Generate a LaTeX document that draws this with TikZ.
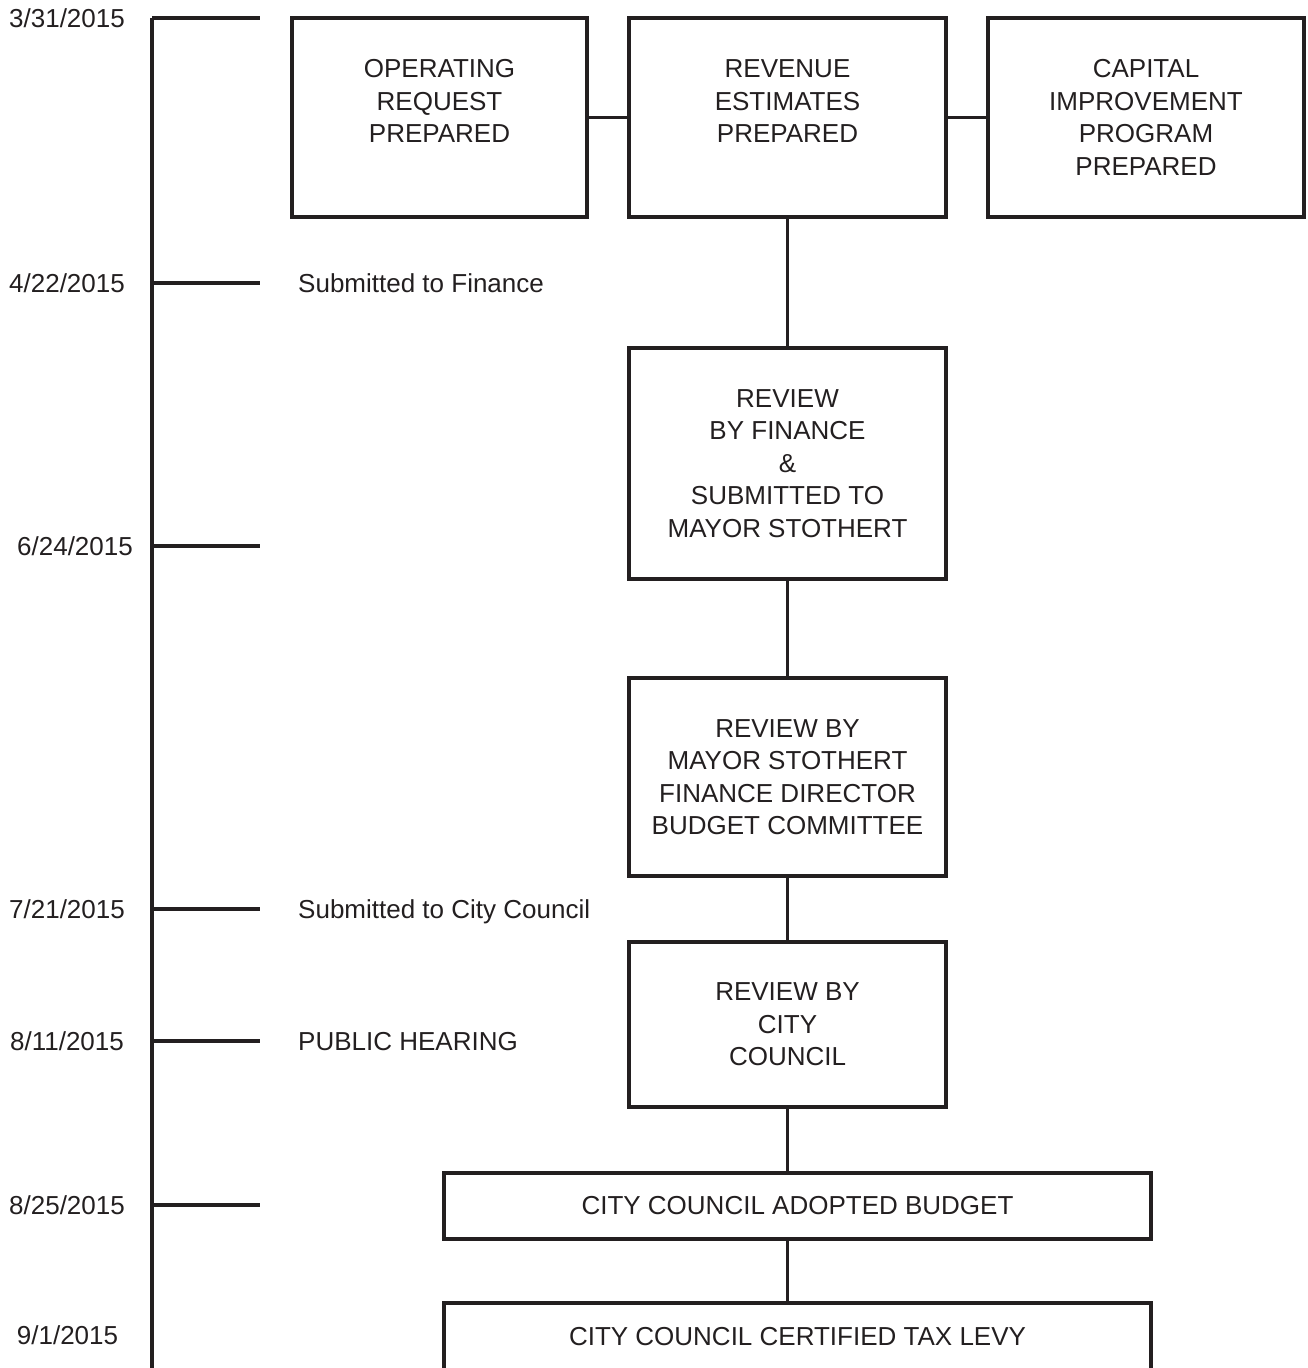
\documentclass[tikz,border=0pt]{standalone}
\usepackage{fontspec}
\setmainfont{Liberation Sans}
\definecolor{ink}{HTML}{231F20}
\begin{document}
\begin{tikzpicture}[x=1pt,y=-1pt,
  every node/.style={text=ink,font=\fontsize{26}{32.5}\selectfont},
  box/.style={draw=ink,line width=3.2pt,align=center,inner sep=0pt},
  conn/.style={draw=ink,line width=3.2pt},
  datelab/.style={anchor=base,inner sep=0pt},
  sidelab/.style={anchor=base west,inner sep=0pt}]
\useasboundingbox (0,0) rectangle (1307,1368);
% boxes
\node[box,minimum width=295,minimum height=199] (op) at (439.5,117.5) {OPERATING\\REQUEST\\PREPARED\\\phantom{X}};
\node[box,minimum width=317,minimum height=199] (rev) at (787.5,117.5) {REVENUE\\ESTIMATES\\PREPARED\\\phantom{X}};
\node[box,minimum width=316,minimum height=199] (cap) at (1146,117.5) {CAPITAL\\IMPROVEMENT\\PROGRAM\\PREPARED};
\node[box,minimum width=317,minimum height=231] (fin) at (787.5,463.5) {REVIEW\\BY FINANCE\\\&\\SUBMITTED TO\\MAYOR STOTHERT};
\node[box,minimum width=317,minimum height=198] (mayor) at (787.5,777) {REVIEW BY\\MAYOR STOTHERT\\FINANCE DIRECTOR\\BUDGET COMMITTEE};
\node[box,minimum width=317,minimum height=165] (council) at (787.5,1024.5) {REVIEW BY\\CITY\\COUNCIL};
\node[box,minimum width=707,minimum height=66] (adopt) at (797.5,1206) {CITY COUNCIL ADOPTED BUDGET};
\node[box,minimum width=707,minimum height=68] (cert) at (797.5,1337) {CITY COUNCIL CERTIFIED TAX LEVY};
% connectors
\draw[conn] (op.east) -- (rev.west);
\draw[conn] (rev.east) -- (cap.west);
\draw[conn] (rev.south) -- (fin.north);
\draw[conn] (fin.south) -- (mayor.north);
\draw[conn] (mayor.south) -- (council.north);
\draw[conn] (council.south) -- (council.south |- adopt.north);
\draw[conn] (council.south |- adopt.south) -- (council.south |- cert.north);
% timeline
\coordinate (tltop) at (152,18);
\coordinate (tlbot) at (152,1390);
\draw[conn] (tltop) -- (tlbot);
\foreach \n/\y in {a/18,b/283,c/546,d/909,e/1041,f/1205}{
  \coordinate (t\n) at (152,\y);
  \coordinate (u\n) at (260,\y);
  \draw[conn] (t\n) -- (u\n);
}
% dates
\node[datelab] (d1) at (67,27.5) {3/31/2015};
\node[datelab] (d2) at (67,292.5) {4/22/2015};
\node[datelab] (d3) at (75,555.5) {6/24/2015};
\node[datelab] (d4) at (67,918.5) {7/21/2015};
\node[datelab] (d5) at (67,1050.5) {8/11/2015};
\node[datelab] (d6) at (67,1214.5) {8/25/2015};
\node[datelab] (d7) at (67.5,1344.5) {9/1/2015};
% side labels
\node[sidelab] (s1) at (298,292.5) {Submitted to Finance};
\node[sidelab] (s2) at (298,918.5) {Submitted to City Council};
\node[sidelab] (s3) at (298,1050.5) {PUBLIC HEARING};
\end{tikzpicture}
\end{document}
